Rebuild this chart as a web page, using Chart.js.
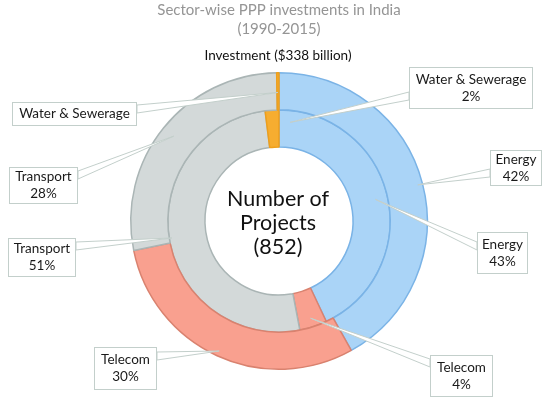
<!DOCTYPE html>
<html>
<head>
<meta charset="utf-8">
<script src="https://cdn.jsdelivr.net/npm/chart.js@4/dist/chart.umd.min.js"></script>
<style>
  html, body { margin: 0; padding: 0; background: #fff; }
  #wrap { width: 544px; height: 398px; position: relative; }
</style>
</head>
<body>
<div id="wrap"><canvas id="chart" width="544" height="398"></canvas></div>
<script>
const sectors = ['Energy', 'Telecom', 'Transport', 'Water & Sewerage'];
const investmentShare = [42, 30, 28, 0.25];   // outer ring, % of $338 billion
const projectShare = [43, 4, 51, 2];           // inner ring, % of 852 projects
const titleLines = ['Sector-wise PPP investments in India', '(1990-2015)'];
const outerCaption = 'Investment ($338 billion)';
const centerLines = ['Number of', 'Projects', '(852)'];

const sectorFill = ['#aad4f7', '#f9a08f', '#d3d9d9', '#f6ad30'];
const sectorEdge = ['#7ab3e6', '#d9826f', '#aab5b5', '#ee9f1c'];

// callout boxes: ds 0 = outer ring, ds 1 = inner ring
// box = [x, y, w, h], rf = where in the ring the pointer lands
const callouts = [
    { ds: 1, i: 3, box: [409, 67, 124, 42], baseY: 96, rf: 0.68, nudge: 10 },
    { ds: 0, i: 0, box: [490, 150, 52, 36], baseY: 173, rf: 0.87 },
    { ds: 1, i: 0, box: [477, 232, 51, 42], baseY: 246, rf: 0.67 },
    { ds: 1, i: 1, box: [430, 355, 63, 42], baseY: 363, rf: 0.76 },
    { ds: 0, i: 1, box: [94, 347, 63, 43], baseY: 356, rf: 0.86 },
    { ds: 1, i: 2, box: [8, 238, 68, 39], baseY: 246, rf: 0.93 },
    { ds: 0, i: 2, box: [9, 167, 69, 37], baseY: 175, rf: 0.65 },
    { ds: 0, i: 3, box: [12, 102, 125, 24], baseY: 109, rf: 0.47 },
];

const font = (size) => `${size}px Lato, "Open Sans", sans-serif`;

const annotate = {
    id: 'annotate',
    afterDatasetsDraw(chart) {
        const ctx = chart.ctx;
        const data = chart.data.datasets;
        ctx.save();
        ctx.textAlign = 'center';
        ctx.textBaseline = 'middle';

        ctx.fillStyle = '#959595';
        ctx.font = font(15);
        titleLines.forEach((s, k) => ctx.fillText(s, 279, 10 + k * 19));

        ctx.fillStyle = '#111';
        ctx.font = font(13.5);
        ctx.fillText(outerCaption, 278, 56);

        ctx.font = font(21.5);
        centerLines.forEach((s, k) => ctx.fillText(s, 278, 199 + k * 24));

        callouts.forEach((c) => {
            const arc = chart.getDatasetMeta(c.ds).data[c.i];
            const p = arc.getProps(['x', 'y', 'startAngle', 'endAngle', 'innerRadius', 'outerRadius'], true);
            const a = (p.startAngle + p.endAngle) / 2 + (c.nudge || 0) * Math.PI / 180;
            const r = p.innerRadius + c.rf * (p.outerRadius - p.innerRadius);
            const tx = p.x + r * Math.cos(a);
            const ty = p.y + r * Math.sin(a);
            const [bx, by, bw, bh] = c.box;
            const ex = tx < bx ? bx : bx + bw;

            ctx.beginPath();
            ctx.moveTo(ex, c.baseY - 4);
            ctx.lineTo(tx, ty);
            ctx.lineTo(ex, c.baseY + 4);
            ctx.closePath();
            ctx.fillStyle = '#fff';
            ctx.fill();
            ctx.strokeStyle = '#c3cfcb';
            ctx.lineWidth = 1;
            ctx.stroke();

            ctx.fillStyle = '#fff';
            ctx.fillRect(bx, by, bw, bh);
            ctx.strokeRect(bx + 0.5, by + 0.5, bw - 1, bh - 1);

            const v = data[c.ds].data[c.i];
            const lines = v >= 1 ? [sectors[c.i], v + '%'] : [sectors[c.i]];
            ctx.fillStyle = '#1a1a1a';
            ctx.font = font(13.5);
            const cy = by + bh / 2 - (lines.length - 1) * 8.5;
            lines.forEach((s, k) => ctx.fillText(s, bx + bw / 2, cy + k * 17));
        });
        ctx.restore();
    }
};

new Chart(document.getElementById('chart'), {
    type: 'doughnut',
    data: {
        labels: sectors,
        datasets: [
            { label: 'Investment', data: investmentShare, backgroundColor: sectorFill, borderColor: sectorEdge, borderWidth: 1.5 },
            { label: 'Number of Projects', data: projectShare, backgroundColor: sectorFill, borderColor: sectorEdge, borderWidth: 1.5 },
        ],
    },
    options: {
        responsive: false,
        animation: false,
        cutout: 74,
        layout: { padding: { left: 130, right: 116, top: 72, bottom: 28 } },
        plugins: { legend: { display: false }, tooltip: { enabled: false }, title: { display: false } },
    },
    plugins: [annotate],
});
</script>
</body>
</html>
